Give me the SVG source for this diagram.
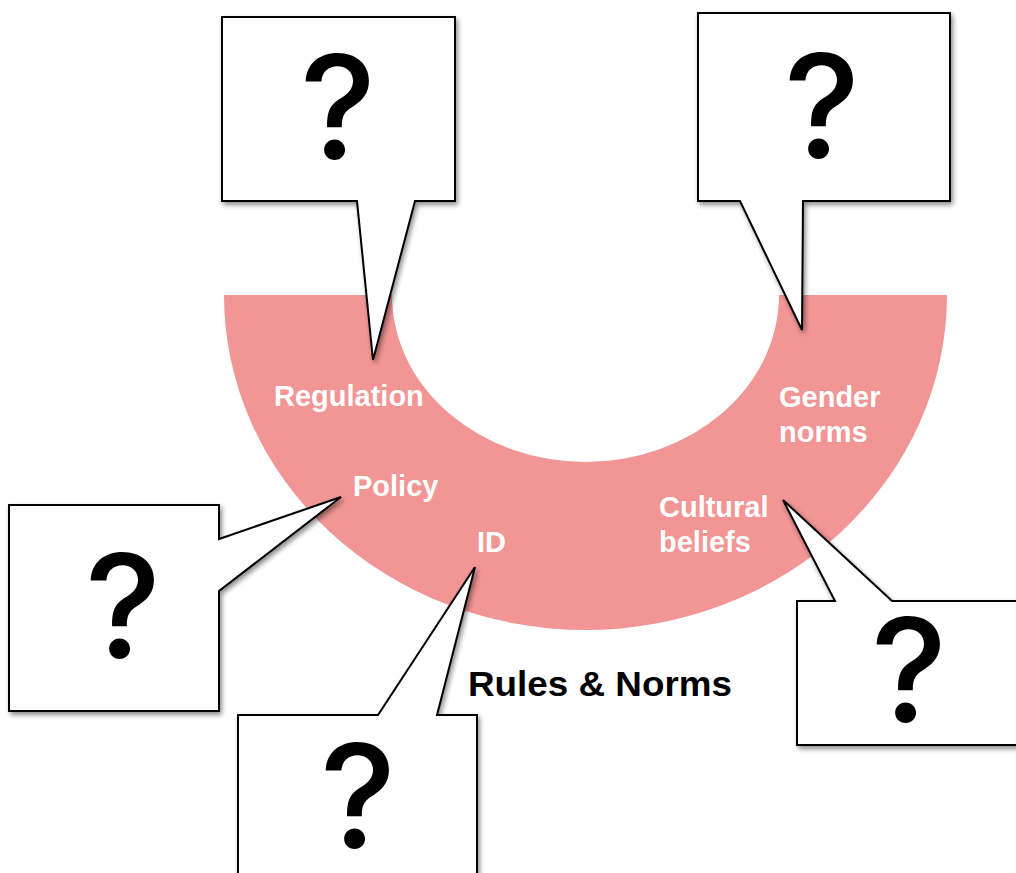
<svg xmlns="http://www.w3.org/2000/svg" width="1016" height="873" viewBox="0 0 1016 873">
  <style>
    .band { fill: #f19595; }
    .callout { fill: #ffffff; stroke: #000000; stroke-width: 2; stroke-linejoin: miter; filter: url(#shadow); }
    .mark { font-family: Inter, "Liberation Sans", Arial, sans-serif; font-weight: 500; font-size: 144px; fill: #000000; text-anchor: middle; }
    .lbl { font-family: "Liberation Sans", Arial, sans-serif; font-weight: bold; font-size: 29px; fill: #ffffff; }
    .title { font-family: "Liberation Sans", Arial, sans-serif; font-weight: bold; font-size: 35px; fill: #000000; }
  </style>
  <defs>
    <filter id="shadow" x="-10%" y="-10%" width="130%" height="130%">
      <feGaussianBlur in="SourceAlpha" stdDeviation="2.5"/>
      <feOffset dx="2" dy="3" result="b"/>
      <feComponentTransfer><feFuncA type="linear" slope="0.45"/></feComponentTransfer>
      <feMerge><feMergeNode/><feMergeNode in="SourceGraphic"/></feMerge>
    </filter>
  </defs>

  <!-- half-ring band -->
  <g id="band">
    <path class="band" d="M224,295 A361.5,335 0 0 0 947,295 L779,295 A193.5,167 0 0 1 392,295 Z"/>
    <text class="lbl" x="274" y="406">Regulation</text>
    <text class="lbl" x="353" y="496">Policy</text>
    <text class="lbl" x="477" y="552">ID</text>
    <text class="lbl" x="779" y="407">Gender</text>
    <text class="lbl" x="779" y="442">norms</text>
    <text class="lbl" x="659" y="517">Cultural</text>
    <text class="lbl" x="659" y="552">beliefs</text>
  </g>

  <g id="title">
    <text class="title" x="468" y="696" textLength="264" lengthAdjust="spacingAndGlyphs">Rules &amp; Norms</text>
  </g>

  <!-- speech-bubble callouts -->
  <g id="connectors">
    <g id="callout-regulation">
      <path class="callout" d="M222,17 H455 V201 H415 L373,360 L357,201 H222 Z"/>
      <text class="mark" x="338" y="159">?</text>
    </g>
    <g id="callout-gender">
      <path class="callout" d="M698,13 H950 V201 H803 L802,330 L740,201 H698 Z"/>
      <text class="mark" x="822" y="158">?</text>
    </g>
    <g id="callout-policy">
      <path class="callout" d="M9,505 H219 V539 L341,497 L219,591 V711 H9 Z"/>
      <text class="mark" x="123" y="658">?</text>
    </g>
    <g id="callout-id">
      <path class="callout" d="M238,715 H378 L475,567 L437,715 H477 V880 H238 Z"/>
      <text class="mark" x="358" y="848">?</text>
    </g>
    <g id="callout-cultural">
      <path class="callout" d="M797,601 H835 L783,500 L892,601 H1030 V745 H797 Z"/>
      <text class="mark" x="909" y="722">?</text>
    </g>
  </g>
</svg>
